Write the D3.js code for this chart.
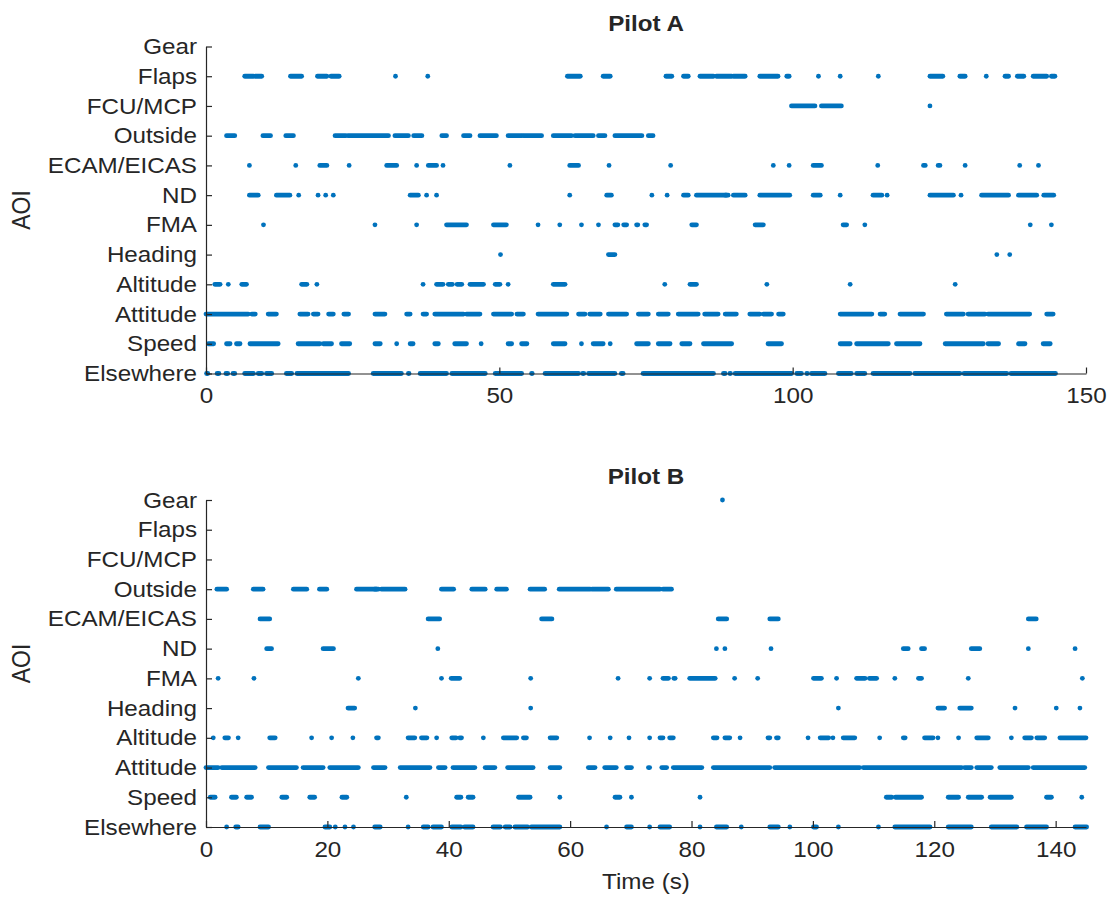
<!DOCTYPE html>
<html><head><meta charset="utf-8">
<script src="https://cdn.jsdelivr.net/npm/d3@7"></script>
<style>body{margin:0;background:#fff}svg{display:block}text{font-family:"Liberation Sans",Arial,sans-serif;fill:#262626}</style>
</head><body><svg id="c" width="1113" height="902"></svg>
<script>
// AOI categories (top to bottom)
const aoiLabels = ["Gear","Flaps","FCU/MCP","Outside","ECAM/EICAS","ND","FMA","Heading","Altitude","Attitude","Speed","Elsewhere"];
const ticksA = [0,50,100,150];
const ticksB = [0,20,40,60,80,100,120,140];

// Pilot A gaze intervals [start s, end s]
const aGear = [];
const aFlaps = [[6.6,8.1],[8.4,9.5],[14.4,16.3],[19.0,20.6],[21.3,22.7],[32.3,32.3],[37.8,37.8],[61.6,63.8],[67.7,68.9],[78.4,79.4],[81.4,82.2],[84.2,86.5],[87.0,89.6],[89.9,91.9],[94.4,97.5],[99.0,99.4],[104.4,104.4],[108.1,108.1],[114.6,114.6],[123.4,125.6],[128.5,129.4],[133.0,133.0],[136.2,136.8],[138.3,139.4],[141.0,143.3],[144.1,144.7]];
const aFCU = [[99.8,103.8],[104.9,108.3],[123.4,123.4]];
const aOutside = [[3.5,4.9],[9.7,11.0],[13.6,14.9],[22.0,23.8],[24.2,31.1],[32.2,34.5],[35.4,36.8],[40.2,41.0],[43.9,45.0],[46.7,49.5],[51.5,53.8],[54.1,57.2],[59.2,62.3],[62.9,66.0],[66.9,68.0],[69.7,74.3],[75.4,76.2]];
const aECAM = [[7.4,7.4],[15.3,15.3],[19.4,20.6],[24.4,24.4],[30.8,32.5],[35.9,35.9],[37.9,39.3],[40.4,40.4],[51.8,51.8],[62.0,63.5],[68.7,68.7],[79.2,79.2],[96.7,96.7],[99.4,99.4],[103.5,104.9],[114.5,114.5],[122.3,122.6],[124.8,125.1],[129.4,129.4],[138.7,138.7],[141.9,141.9]];
const aND = [[7.4,8.9],[12.0,14.3],[15.8,15.8],[19.1,19.1],[20.4,20.4],[21.7,21.7],[34.8,36.2],[37.6,37.6],[39.3,39.3],[62.0,62.0],[68.3,69.1],[76.0,76.0],[78.6,78.6],[81.4,82.2],[83.6,88.7],[88.5,89.0],[89.9,91.9],[94.4,99.5],[103.5,104.7],[108.1,108.1],[113.7,115.2],[116.1,116.1],[123.4,127.4],[128.7,128.7],[132.2,136.8],[138.5,141.6],[142.8,144.5]];
const aFMA = [[9.8,9.8],[28.8,28.8],[35.9,35.9],[41.0,44.4],[49.0,51.2],[56.6,56.6],[60.3,60.3],[64.0,64.0],[66.9,66.9],[69.7,70.2],[71.2,71.7],[73.4,73.6],[74.8,75.1],[82.8,83.6],[93.6,95.0],[108.6,109.2],[112.3,112.3],[140.5,140.5],[144.1,144.1]];
const aHeading = [[50.2,50.2],[68.6,69.7],[134.8,134.8],[137.0,137.0]];
const aAltitude = [[1.5,2.4],[3.8,3.8],[6.1,6.9],[16.3,17.2],[18.9,18.9],[37.0,37.0],[39.3,40.4],[41.3,42.0],[42.8,43.6],[45.0,47.3],[49.3,50.1],[51.5,51.5],[59.2,61.2],[78.2,78.2],[82.5,83.6],[95.6,95.6],[109.8,109.8],[127.7,127.7]];
const aAttitude = [[0,7.2],[7.8,8.4],[10.6,12.0],[16.0,17.4],[18.3,19.1],[20.9,21.7],[23.5,24.3],[28.8,30.5],[34.2,34.8],[37.0,37.6],[39.0,43.9],[44.4,46.7],[49.0,52.1],[53.0,54.1],[56.6,61.5],[63.5,64.6],[65.4,67.2],[68.6,71.7],[73.7,75.4],[77.1,78.8],[80.5,83.9],[85.0,87.3],[88.5,90.4],[92.7,94.4],[95.0,96.4],[97.6,98.4],[108.1,113.5],[114.9,115.7],[118.3,122.3],[126.2,129.1],[129.9,132.8],[133.3,140.4],[143.3,144.4]];
const aSpeed = [[0.4,1.3],[3.5,4.1],[5.2,5.8],[7.5,12.3],[15.7,19.4],[20.0,21.4],[23.1,24.5],[28.8,29.7],[32.5,32.5],[34.8,35.3],[39.0,39.6],[42.4,44.4],[46.9,46.9],[51.5,52.1],[53.8,54.7],[59.2,61.2],[64.0,64.0],[66.0,67.7],[68.9,68.9],[73.4,75.4],[77.1,79.1],[81.1,82.5],[84.8,89.6],[95.8,98.1],[108.1,109.8],[110.9,116.3],[117.7,121.7],[126.0,132.5],[133.3,135.1],[138.5,139.6],[142.7,143.9]];
const aElsewhere = [[0.1,0.3],[1.9,2.2],[3.4,3.7],[4.6,4.9],[6.6,8.1],[8.9,9.5],[10.3,11.2],[13.7,14.6],[15.5,24.3],[28.5,33.3],[34.5,34.6],[36.5,41.0],[41.9,47.6],[49.3,53.8],[55.5,55.6],[57.8,63.5],[64.2,64.4],[65.2,69.7],[70.8,71.1],[74.5,86.5],[88.2,88.5],[89.3,89.4],[90.2,99.8],[100.7,101.5],[102.4,102.5],[103.2,105.5],[107.8,110.0],[110.9,112.3],[113.7,120.0],[120.8,128.5],[129.2,136.5],[137.2,144.8]];

// Pilot B gaze intervals [start s, end s]
const bGear = [[85.1,85.1]];
const bFlaps = [];
const bFCU = [];
const bOutside = [[1.8,3.4],[7.8,9.4],[14.4,16.6],[18.7,19.9],[24.8,28.1],[27.8,28.4],[28.9,32.8],[38.8,40.8],[43.8,46.0],[47.9,49.5],[53.4,55.8],[58.2,63.3],[63.6,66.3],[67.6,74.8],[75.3,76.7]];
const bECAM = [[8.9,10.5],[36.6,38.5],[55.3,57.0],[84.4,85.8],[92.9,94.3],[135.5,136.8]];
const bND = [[10.0,10.8],[19.3,21.0],[38.2,38.2],[84.1,84.1],[85.5,85.5],[93.1,93.1],[114.9,115.7],[117.9,118.4],[126.1,127.5],[135.5,135.5],[143.2,143.2]];
const bFMA = [[2.0,2.0],[7.9,7.9],[25.1,25.1],[38.8,38.8],[40.4,41.8],[53.5,53.5],[67.9,67.9],[73.1,73.1],[75.3,76.2],[77.1,77.3],[79.7,83.9],[87.1,87.1],[90.9,90.9],[100.1,101.4],[103.9,103.9],[107.2,108.6],[109.3,110.5],[113.5,113.5],[117.4,117.9],[125.6,125.6],[144.4,144.4]];
const bHeading = [[23.4,24.5],[34.5,34.5],[53.5,53.5],[104.2,104.2],[120.6,121.7],[124.2,126.1],[133.3,133.3],[140.1,140.1],[144.0,144.0]];
const bAltitude = [[1.2,1.2],[3.1,3.7],[5.3,5.3],[10.5,11.4],[17.4,17.4],[20.7,20.7],[24.2,24.2],[28.1,28.4],[33.3,34.4],[35.5,36.4],[38.0,38.0],[40.5,41.2],[41.8,42.1],[45.7,45.7],[49.0,51.2],[52.3,52.8],[56.7,57.8],[63.2,63.2],[66.6,66.6],[69.7,69.7],[73.1,73.1],[74.8,75.3],[76.4,77.0],[83.6,84.2],[85.5,86.3],[88.0,88.0],[92.6,92.9],[94.0,94.3],[99.2,99.2],[101.2,102.6],[103.3,103.3],[105.0,106.9],[111.0,111.0],[114.9,115.2],[118.4,119.8],[120.6,120.6],[124.0,124.0],[127.0,128.9],[132.7,132.7],[134.9,136.0],[136.9,138.2],[140.7,145.0]];
const bAttitude = [[0,2.0],[2.6,8.1],[10.3,14.9],[16.0,19.3],[20.4,25.1],[27.6,29.5],[32.0,36.9],[38.3,39.4],[40.7,44.3],[46.0,47.6],[49.7,53.9],[56.7,58.3],[63.0,64.1],[65.7,67.6],[69.3,70.1],[72.9,73.1],[75.1,75.9],[77.0,81.7],[83.6,92.9],[93.7,107.7],[108.3,124.5],[125.0,126.1],[127.0,129.4],[130.8,135.5],[136.3,144.8]];
const bSpeed = [[0.7,1.5],[4.2,5.0],[6.7,7.5],[12.5,13.3],[17.1,17.9],[22.4,23.2],[33.0,33.0],[41.3,42.0],[43.2,44.0],[51.5,53.4],[58.3,58.3],[67.4,68.2],[70.1,70.1],[81.4,81.4],[112.1,113.0],[113.6,117.9],[122.3,124.0],[125.6,127.8],[129.2,132.7],[138.5,139.3],[144.3,144.3]];
const bElsewhere = [[3.4,3.4],[4.9,5.3],[8.9,10.3],[19.6,20.4],[21.3,21.3],[22.9,22.9],[24.3,24.3],[27.8,28.7],[33.3,33.3],[35.8,36.6],[37.4,38.8],[40.5,42.0],[42.6,44.0],[47.3,48.5],[49.3,50.1],[50.9,53.0],[53.6,58.3],[66.0,66.0],[69.3,70.1],[73.1,73.1],[74.8,76.4],[81.4,81.4],[84.1,85.8],[88.2,88.2],[92.9,94.3],[96.2,96.2],[100.1,100.6],[104.2,104.2],[110.8,110.8],[113.5,119.3],[122.3,126.1],[129.4,133.6],[135.2,138.5],[143.2,145.1]];

const pilotA = [aGear,aFlaps,aFCU,aOutside,aECAM,aND,aFMA,aHeading,aAltitude,aAttitude,aSpeed,aElsewhere];
const pilotB = [bGear,bFlaps,bFCU,bOutside,bECAM,bND,bFMA,bHeading,bAltitude,bAttitude,bSpeed,bElsewhere];

const svg = d3.select("#c");
const blue = "#0072BD", axc = "#262626";
const sx = 1.1; // horizontal stretch of the reference text

function panel(cfg){
  const x = d3.scaleLinear().domain(cfg.xdom).range([206,1086]);
  const y = d3.scalePoint().domain(aoiLabels).range([cfg.yTop,cfg.yBot]);
  const g = svg.append("g");
  const r = 2.4;
  cfg.rows.forEach((iv,i)=>{
    g.selectAll(null).data(iv).enter().append("rect")
      .attr("x",d=>x(d[0])-r).attr("width",d=>x(d[1])-x(d[0])+2*r)
      .attr("y",y(aoiLabels[i])-r).attr("height",2*r).attr("rx",r).attr("ry",r)
      .attr("fill",blue);
  });
  const ya = d3.axisLeft(y).tickSizeInner(-6).tickSizeOuter(0).tickPadding(9);
  const yg = g.append("g").attr("transform","translate(206,0)").call(ya);
  const xa = d3.axisBottom(x).tickValues(cfg.ticks).tickSizeInner(-6).tickSizeOuter(0).tickPadding(14);
  const xg = g.append("g").attr("transform",`translate(0,${cfg.yBot})`).call(xa);
  [yg,xg].forEach(a=>{
    a.select(".domain").attr("stroke",axc).attr("stroke-width",1.2);
    a.selectAll(".tick line").attr("stroke",axc).attr("stroke-width",1.2);
    a.selectAll("text").attr("font-size",22).attr("fill",axc).style("font-family","'Liberation Sans',Arial,sans-serif")
      .each(function(){
        const t = d3.select(this); const tx = +(t.attr("x")||0);
        t.attr("x",0).attr("transform",`translate(${tx},0) scale(${sx},1)`);
      });
  });
  g.append("text").attr("transform",`translate(646,${cfg.yTop-16}) scale(${sx},1)`).attr("text-anchor","middle")
    .attr("font-size",22).attr("font-weight","bold").text(cfg.title);
  g.append("text").attr("transform",`translate(30,${(cfg.yTop+cfg.yBot)/2}) scale(${sx},1) rotate(-90)`)
    .attr("text-anchor","middle").attr("font-size",23).text("AOI");
}
panel({rows:pilotA,xdom:[0,150],ticks:ticksA,yTop:46.5,yBot:373.5,title:"Pilot A"});
panel({rows:pilotB,xdom:[0,145],ticks:ticksB,yTop:500,yBot:827,title:"Pilot B"});
svg.append("text").attr("transform",`translate(646,889) scale(${sx},1)`).attr("text-anchor","middle").attr("font-size",22).text("Time (s)");
</script></body></html>
